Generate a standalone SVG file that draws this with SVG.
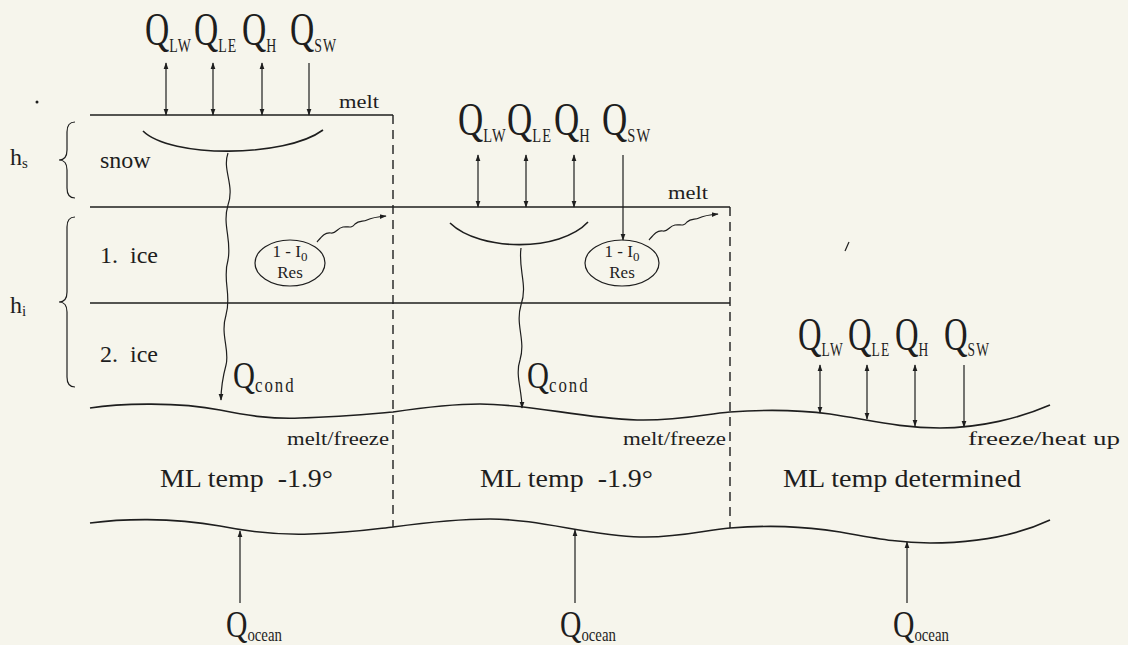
<svg xmlns="http://www.w3.org/2000/svg" width="1128" height="645" viewBox="0 0 1128 645">
<style>
.bg{fill:#f6f5ec}
.ln{fill:none;stroke:#1e1e1e;stroke-width:1.6}
.thin{fill:none;stroke:#1e1e1e;stroke-width:1.2}
.dash{fill:none;stroke:#1e1e1e;stroke-width:1.4;stroke-dasharray:9 6}
text{font-family:"Liberation Serif","Times New Roman",serif;fill:#1e1e1e}
.q{font-size:46px}
.qs{font-size:38px}
.sub{font-size:19px;letter-spacing:1.5px}
.csub{font-size:21px;letter-spacing:2.5px}
.osub{font-size:19px}
.lab{font-size:24px}
.sm{font-size:18px}
.ml{font-size:26px}
.el{font-size:17px}
</style>
<defs>
<marker id="ah" viewBox="0 0 10 10" refX="9" refY="5" markerWidth="7" markerHeight="7" orient="auto-start-reverse" markerUnits="userSpaceOnUse">
<path d="M0,1.5 L10,5 L0,8.5 Z" fill="#1e1e1e"/>
</marker>
</defs>
<rect class="bg" x="0" y="0" width="1128" height="645"/>

<!-- scan artifacts -->
<circle cx="37" cy="102" r="1.5" fill="#1e1e1e"/>
<path class="thin" d="M845,251 L849,242"/>

<g id="layers">
<line class="ln" x1="90" y1="115" x2="393" y2="115"/>
<line class="ln" x1="90" y1="207" x2="730" y2="207"/>
<line class="ln" x1="90" y1="303" x2="730" y2="303"/>
<path class="dash" d="M393,115 V527"/>
<path class="dash" d="M730,207 V528"/>
<path id="wave-top" class="ln" d="M90,408 C120,403 180,402 220,410 C250,416 270,419 300,418 C340,417 370,414 393,412 C420,408 450,404 480,404 C530,404 580,418 637,420 C680,421 705,414 730,412 C770,409 800,410 830,414 C870,420 900,428 940,428 C980,428 1020,418 1050,405"/>
<path id="wave-bottom" class="ln" d="M90,523 C120,519 170,517 220,526 C250,532 280,535 310,534 C350,533 375,529 393,527 C430,522 460,519 490,519 C540,519 590,536 640,537 C680,538 705,530 730,528 C770,525 800,526 840,532 C880,539 900,543 930,543 C980,543 1020,534 1050,520"/>
</g>

<g id="braces">
<path class="thin" d="M75,122 Q67,122 67,132 L67,150 Q67,160 59,160 Q67,160 67,170 L67,188 Q67,198 75,198"/>
<path class="thin" d="M75,217 Q67,217 67,227 L67,292 Q67,302 59,302 Q67,302 67,312 L67,377 Q67,387 75,387"/>
<text class="lab" x="10" y="165">h<tspan font-size="15" dy="3">s</tspan></text>
<text class="lab" x="10" y="313">h<tspan font-size="15" dy="3">i</tspan></text>
</g>

<g id="layer-labels">
<text class="lab" x="100" y="168">snow</text>
<text class="lab" x="100" y="263" xml:space="preserve">1.  ice</text>
<text class="lab" x="100" y="362" xml:space="preserve">2.  ice</text>
<text class="sm" x="339" y="108" textLength="40" lengthAdjust="spacingAndGlyphs">melt</text>
<text class="sm" x="668" y="199" textLength="40" lengthAdjust="spacingAndGlyphs">melt</text>
<text class="sm" x="287" y="445" textLength="102" lengthAdjust="spacingAndGlyphs">melt/freeze</text>
<text class="sm" x="623" y="445" textLength="103" lengthAdjust="spacingAndGlyphs">melt/freeze</text>
<text class="sm" x="968" y="445" textLength="152" lengthAdjust="spacingAndGlyphs">freeze/heat up</text>
<text class="ml" x="160" y="487" textLength="173" lengthAdjust="spacingAndGlyphs" xml:space="preserve">ML temp  -1.9°</text>
<text class="ml" x="480" y="487" textLength="173" lengthAdjust="spacingAndGlyphs" xml:space="preserve">ML temp  -1.9°</text>
<text class="ml" x="783" y="487" textLength="238" lengthAdjust="spacingAndGlyphs">ML temp determined</text>
</g>

<g id="fluxes-1">
<text class="q" transform="translate(145,45) scale(0.73,1)">Q<tspan class="sub" dy="7">LW</tspan></text>
<text class="q" transform="translate(194,45) scale(0.73,1)">Q<tspan class="sub" dy="7">LE</tspan></text>
<text class="q" transform="translate(242,45) scale(0.73,1)">Q<tspan class="sub" dy="7">H</tspan></text>
<text class="q" transform="translate(290,45) scale(0.73,1)">Q<tspan class="sub" dy="7">SW</tspan></text>
</g>
<g id="fluxes-2">
<text class="q" transform="translate(458,135) scale(0.76,1)">Q<tspan class="sub" dy="7">LW</tspan></text>
<text class="q" transform="translate(507,135) scale(0.76,1)">Q<tspan class="sub" dy="7">LE</tspan></text>
<text class="q" transform="translate(554,135) scale(0.76,1)">Q<tspan class="sub" dy="7">H</tspan></text>
<text class="q" transform="translate(602,135) scale(0.76,1)">Q<tspan class="sub" dy="7">SW</tspan></text>
</g>
<g id="fluxes-3">
<text class="q" transform="translate(798,350) scale(0.71,1)">Q<tspan class="sub" dy="6">LW</tspan></text>
<text class="q" transform="translate(848,350) scale(0.71,1)">Q<tspan class="sub" dy="6">LE</tspan></text>
<text class="q" transform="translate(895,350) scale(0.71,1)">Q<tspan class="sub" dy="6">H</tspan></text>
<text class="q" transform="translate(944,350) scale(0.71,1)">Q<tspan class="sub" dy="6">SW</tspan></text>
</g>

<g id="res-1">
<ellipse class="thin" cx="290" cy="263" rx="35" ry="23"/>
<text class="el" x="290" y="257" text-anchor="middle">1 - I<tspan font-size="13" dy="4">0</tspan></text>
<text class="el" x="290" y="278" text-anchor="middle">Res</text>
</g>
<g id="res-2">
<ellipse class="thin" cx="622" cy="263" rx="37" ry="23"/>
<text class="el" x="622" y="257" text-anchor="middle">1 - I<tspan font-size="13" dy="4">0</tspan></text>
<text class="el" x="622" y="278" text-anchor="middle">Res</text>
</g>

<g id="cond-labels">
<text class="qs" transform="translate(233,388) scale(0.8,1)">Q<tspan class="csub" dy="4">cond</tspan></text>
<text class="qs" transform="translate(527,388) scale(0.8,1)">Q<tspan class="csub" dy="4">cond</tspan></text>
</g>

<g id="ocean-labels">
<text class="qs" transform="translate(226,637) scale(0.78,1)">Q<tspan class="osub" dy="4">ocean</tspan></text>
<text class="qs" transform="translate(560,637) scale(0.78,1)">Q<tspan class="osub" dy="4">ocean</tspan></text>
<text class="qs" transform="translate(893,637) scale(0.78,1)">Q<tspan class="osub" dy="4">ocean</tspan></text>
</g>

<g id="connectors">
<line class="thin" x1="166" y1="63" x2="166" y2="115" marker-start="url(#ah)" marker-end="url(#ah)"/>
<line class="thin" x1="213" y1="63" x2="213" y2="115" marker-start="url(#ah)" marker-end="url(#ah)"/>
<line class="thin" x1="262" y1="63" x2="262" y2="115" marker-start="url(#ah)" marker-end="url(#ah)"/>
<line class="thin" x1="309" y1="63" x2="309" y2="115" marker-end="url(#ah)"/>
<line class="thin" x1="478" y1="155" x2="478" y2="207" marker-start="url(#ah)" marker-end="url(#ah)"/>
<line class="thin" x1="526" y1="155" x2="526" y2="207" marker-start="url(#ah)" marker-end="url(#ah)"/>
<line class="thin" x1="574" y1="155" x2="574" y2="207" marker-start="url(#ah)" marker-end="url(#ah)"/>
<line class="thin" x1="623" y1="155" x2="623" y2="240" marker-end="url(#ah)"/>
<line class="thin" x1="820" y1="365" x2="820" y2="413" marker-start="url(#ah)" marker-end="url(#ah)"/>
<line class="thin" x1="867" y1="365" x2="867" y2="419" marker-start="url(#ah)" marker-end="url(#ah)"/>
<line class="thin" x1="915" y1="365" x2="915" y2="426" marker-start="url(#ah)" marker-end="url(#ah)"/>
<line class="thin" x1="964" y1="365" x2="964" y2="427" marker-end="url(#ah)"/>
<path class="ln" d="M143,131 C170,158 285,158 323,130"/>
<path class="ln" d="M450,223 C480,252 560,252 588,222"/>
<path class="thin" d="M228,153 C222,170 235,185 228,205 C222,225 232,240 228,260 C222,280 232,295 226,315 C220,335 230,350 226,365 C222,380 221,390 221,400" marker-end="url(#ah)"/>
<path class="thin" d="M521,248 C518,270 528,285 521,305 C515,325 526,340 520,360 C515,375 522,390 522,408" marker-end="url(#ah)"/>
<path class="thin" d="M317,242 c5,-6 8,-10 14,-9 c5,1 6,-5 12,-6 c6,-1 8,2 12,-3 c4,-4 8,-2 12,-4 c4,-2 8,-3 19,-4" marker-end="url(#ah)"/>
<path class="thin" d="M649,240 c5,-6 8,-10 14,-9 c5,1 6,-5 12,-6 c6,-1 8,2 12,-3 c4,-4 8,-2 12,-4 c4,-2 8,-3 19,-4" marker-end="url(#ah)"/>
<line class="thin" x1="240" y1="603" x2="240" y2="531" marker-end="url(#ah)"/>
<line class="thin" x1="575" y1="603" x2="575" y2="530" marker-end="url(#ah)"/>
<line class="thin" x1="907" y1="603" x2="907" y2="542" marker-end="url(#ah)"/>
</g>
</svg>
